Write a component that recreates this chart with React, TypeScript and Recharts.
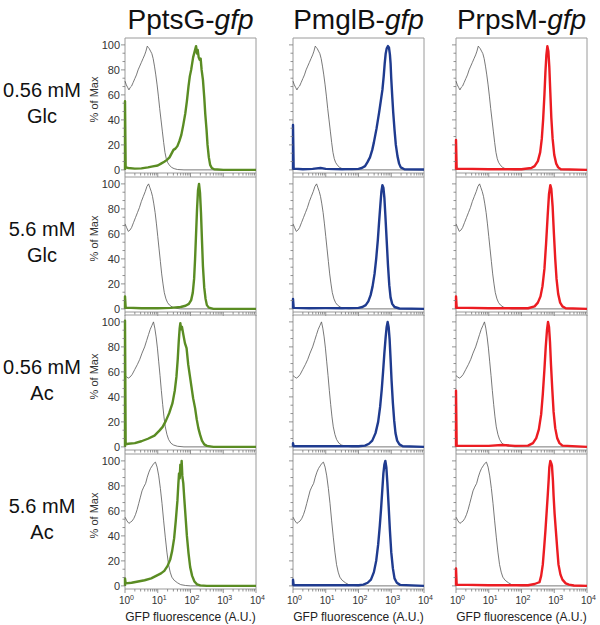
import React from 'react';
import { LineChart, Line, XAxis, YAxis, ReferenceArea } from 'recharts';

const FONT = '"Liberation Sans", Arial, Helvetica, sans-serif';

type Pt = [number, number];

// Column / row annotations
const promoters = ['PptsG', 'PmglB', 'PrpsM'];
const conditions: [string, string][] = [
  ['0.56 mM', 'Glc'],
  ['5.6 mM', 'Glc'],
  ['0.56 mM', 'Ac'],
  ['5.6 mM', 'Ac'],
];
const gfpColors = ['#5a8c23', '#1f3b8f', '#ec1c22'];
const yMajorTicks = [0, 20, 40, 60, 80, 100];
const xDecades = [0, 1, 2, 3, 4];

// x = log10(GFP fluorescence, A.U.), y = % of Max
// Control (autofluorescence) histograms, one per row
const ctrlRow1: Pt[] = [[0,71],[0.04,68],[0.08,66],[0.12,64],[0.16,66],[0.2,67],[0.25,70],[0.3,73],[0.35,76],[0.4,80],[0.45,83],[0.5,86],[0.55,89],[0.6,92],[0.64,95],[0.68,99],[0.71,98],[0.74,97],[0.78,95],[0.82,93],[0.86,89],[0.9,83],[0.94,76],[0.98,68],[1.02,59],[1.06,49],[1.1,40],[1.14,31],[1.18,22],[1.22,14],[1.26,9],[1.3,6],[1.35,4],[1.42,2],[1.5,1],[1.6,0.3],[1.8,0],[4,0]];
const ctrlRow2: Pt[] = [[0,68],[0.05,65],[0.1,62],[0.15,63],[0.2,65],[0.26,69],[0.32,73],[0.38,77],[0.44,81],[0.5,86],[0.56,90],[0.62,94],[0.67,98],[0.72,100],[0.76,97],[0.8,94],[0.84,90],[0.88,84],[0.92,77],[0.96,68],[1.0,58],[1.04,48],[1.08,38],[1.12,28],[1.16,20],[1.2,13],[1.25,8],[1.3,5],[1.36,3],[1.44,1.5],[1.55,0.5],[1.7,0],[4,0]];
const ctrlRow3: Pt[] = [[0,57],[0.05,56],[0.1,55],[0.16,56],[0.22,58],[0.3,62],[0.38,66],[0.45,70],[0.52,75],[0.6,80],[0.66,85],[0.72,90],[0.77,94],[0.82,97],[0.87,100],[0.91,95],[0.95,88],[0.99,79],[1.03,68],[1.07,57],[1.11,45],[1.15,34],[1.19,24],[1.23,16],[1.28,10],[1.33,6],[1.4,3],[1.48,1.5],[1.6,0.5],[1.8,0],[4,0]];
const ctrlRow4: Pt[] = [[0,55],[0.06,52],[0.12,50],[0.17,51],[0.22,52],[0.27,54],[0.32,57],[0.37,61],[0.42,66],[0.47,71],[0.52,76],[0.57,79],[0.63,82],[0.68,87],[0.73,91],[0.78,94],[0.83,96],[0.88,98],[0.93,99],[0.98,95],[1.03,88],[1.08,78],[1.13,66],[1.18,52],[1.23,39],[1.28,27],[1.33,17],[1.38,11],[1.43,7],[1.5,4.5],[1.6,2.5],[1.7,1],[1.85,0.3],[2,0],[4,0]];

// PptsG-gfp
const ptsGRow1: Pt[] = [[0,0],[0,55],[0.02,2],[0.1,1.5],[0.3,1],[0.5,1.2],[0.7,2],[0.85,2.8],[1.0,3.5],[1.1,5],[1.2,6.5],[1.28,8],[1.36,10],[1.42,13],[1.48,16],[1.54,17],[1.6,19],[1.66,23],[1.72,28],[1.78,36],[1.84,45],[1.89,55],[1.94,67],[1.98,75],[2.02,80],[2.05,85],[2.08,90],[2.11,93],[2.14,96],[2.17,99],[2.2,93],[2.22,96],[2.25,90],[2.28,88],[2.31,89],[2.34,80],[2.38,72],[2.42,58],[2.45,45],[2.49,32],[2.52,20],[2.56,10],[2.6,4],[2.65,1.5],[2.72,0.5],[3,0],[4,0]];
const ptsGRow2: Pt[] = [[0,0],[0,10],[0.02,1],[0.5,0.5],[1.0,0.5],[1.4,0.8],[1.7,1.5],[1.85,2.5],[1.95,4],[2.02,7],[2.07,13],[2.11,24],[2.14,40],[2.17,60],[2.2,80],[2.23,95],[2.26,100],[2.29,93],[2.32,77],[2.35,55],[2.38,34],[2.42,17],[2.46,8],[2.5,3],[2.56,1],[2.7,0],[4,0]];
const ptsGRow3: Pt[] = [[0,0],[0,101],[0.02,2],[0.1,2.5],[0.3,3],[0.5,4.5],[0.7,6.5],[0.9,9],[1.05,13],[1.15,16],[1.25,21],[1.35,27],[1.45,35],[1.52,45],[1.57,56],[1.61,70],[1.64,84],[1.67,95],[1.69,99],[1.71,94],[1.74,96],[1.78,90],[1.83,83],[1.88,79],[1.93,66],[1.98,57],[2.03,48],[2.08,39],[2.14,31],[2.19,22],[2.24,15],[2.29,10],[2.35,5],[2.42,2],[2.5,0.8],[2.7,0],[4,0]];
const ptsGRow4: Pt[] = [[0,0],[0,6],[0.02,2],[0.2,2.5],[0.4,3.5],[0.6,4.5],[0.8,6],[0.95,8],[1.1,10],[1.2,12],[1.3,16],[1.38,21],[1.44,28],[1.5,38],[1.55,52],[1.6,68],[1.63,82],[1.65,90],[1.67,86],[1.69,97],[1.71,91],[1.73,100],[1.75,88],[1.78,82],[1.81,70],[1.85,55],[1.89,40],[1.94,26],[1.99,15],[2.05,8],[2.12,3.5],[2.2,1.2],[2.3,0.4],[2.5,0],[4,0]];

// PmglB-gfp
const mglBRow1: Pt[] = [[0,0],[0,36],[0.02,1],[0.3,0.5],[0.6,0.8],[0.84,1.5],[1.0,0.8],[1.5,0.5],[2.0,0.8],[2.1,1.5],[2.2,3],[2.27,6],[2.35,10],[2.42,16],[2.47,22],[2.55,33],[2.63,46],[2.68,55],[2.73,64],[2.77,75],[2.8,85],[2.83,93],[2.86,97],[2.9,99],[2.93,98],[2.96,92],[2.98,85],[3.0,73],[3.03,59],[3.06,46],[3.1,32],[3.14,20],[3.19,11],[3.24,5],[3.29,2],[3.4,0.5],[4,0.3]];
const mglBRow2: Pt[] = [[0,0],[0,8],[0.02,0.8],[0.5,0.5],[1,0.6],[1.5,0.5],[2.0,0.8],[2.12,1.5],[2.22,3],[2.3,6],[2.37,11],[2.43,18],[2.49,28],[2.54,40],[2.59,55],[2.63,70],[2.67,84],[2.7,94],[2.73,99],[2.76,97],[2.79,89],[2.82,75],[2.86,55],[2.9,35],[2.94,19],[2.98,9],[3.03,4],[3.1,1.5],[3.25,0.3],[4,0]];
const mglBRow3: Pt[] = [[0,0],[0,3],[0.02,0.5],[1,0.5],[2.0,0.5],[2.2,1],[2.32,2.5],[2.42,5],[2.52,11],[2.6,20],[2.66,32],[2.71,46],[2.75,60],[2.79,75],[2.83,88],[2.86,96],[2.89,100],[2.92,96],[2.95,86],[2.98,70],[3.01,53],[3.05,35],[3.09,21],[3.13,11],[3.18,5],[3.25,2],[3.35,0.5],[4,0]];
const mglBRow4: Pt[] = [[0,0],[0,5],[0.02,0.5],[1,0.5],[2.0,0.5],[2.15,1],[2.28,2.5],[2.38,5],[2.47,11],[2.54,20],[2.6,33],[2.65,48],[2.69,62],[2.73,78],[2.76,90],[2.79,97],[2.82,100],[2.85,95],[2.88,83],[2.92,64],[2.96,44],[3.0,27],[3.05,14],[3.1,6],[3.17,2.5],[3.27,0.8],[4,0]];

// PrpsM-gfp
const rpsMRow1: Pt[] = [[0,0],[0,24],[0.02,1],[1,0.5],[2.0,0.5],[2.3,1.5],[2.4,3],[2.5,7],[2.57,14],[2.62,25],[2.66,40],[2.7,60],[2.73,78],[2.76,92],[2.79,99],[2.82,95],[2.85,82],[2.88,62],[2.91,42],[2.95,25],[3.0,12],[3.06,5],[3.12,2],[3.2,0.5],[4,0]];
const rpsMRow2: Pt[] = [[0,0],[0,10],[0.02,1],[1,0.5],[2.2,0.5],[2.4,2],[2.5,5],[2.58,10],[2.64,18],[2.7,32],[2.75,52],[2.8,75],[2.84,92],[2.88,99],[2.91,96],[2.95,82],[2.99,60],[3.03,40],[3.07,24],[3.12,12],[3.18,5],[3.25,2],[3.35,0.5],[4,0]];
const rpsMRow3: Pt[] = [[0,0],[0,45],[0.02,1],[1,0.8],[1.4,1.5],[1.8,0.8],[2.2,1],[2.35,3],[2.45,7],[2.53,14],[2.6,26],[2.65,42],[2.7,62],[2.74,80],[2.78,94],[2.81,100],[2.84,96],[2.87,84],[2.9,66],[2.94,46],[2.98,28],[3.03,15],[3.09,7],[3.16,3],[3.25,1],[4,0]];
const rpsMRow4: Pt[] = [[0,0],[0,14],[0.02,1],[1,0.5],[2.2,0.5],[2.4,1.5],[2.5,2.5],[2.55,3],[2.6,8],[2.65,17],[2.69,30],[2.73,44],[2.77,60],[2.8,72],[2.83,85],[2.85,95],[2.88,100],[2.91,98],[2.93,96],[2.96,84],[2.98,72],[3.01,58],[3.05,44],[3.09,30],[3.13,17],[3.19,9],[3.25,5],[3.35,2],[3.45,1],[3.6,0.3],[4,0]];

const controls: Pt[][] = [ctrlRow1, ctrlRow2, ctrlRow3, ctrlRow4];
const reporters: Pt[][][] = [
  [ptsGRow1, mglBRow1, rpsMRow1],
  [ptsGRow2, mglBRow2, rpsMRow2],
  [ptsGRow3, mglBRow3, rpsMRow3],
  [ptsGRow4, mglBRow4, rpsMRow4],
];

// layout
const COL_LEFT = [125, 293, 456];
const ROW_TOP = [38, 177, 315, 454];
const PLOT_W = 131;
const PLOT_H = 135;
const Y_AXIS_W = 45;
const X_AXIS_H = 36;
const M_TOP = 4;
const M_RIGHT = 10;
const Y_DOMAIN: [number, number] = [-2.5, 105.5];

const yTicks: number[] = [];
for (let k = 0; k < 5; k++) {
  yTicks.push(20 * k, 20 * k + 20 / 3, 20 * k + 40 / 3);
}
yTicks.push(100);

const xTicks: number[] = [];
for (let d = 0; d < 4; d++) {
  xTicks.push(d);
  for (let m = 2; m <= 9; m++) xTicks.push(d + Math.log10(m));
}
xTicks.push(4);

const toPts = (a: Pt[]) => a.map(([x, y]) => ({ x, y }));

const YTick = (props: any) => {
  const { x, y, payload, showLabel } = props;
  const v = payload.value;
  const major = yMajorTicks.some((t) => Math.abs(t - v) < 1e-6);
  return (
    <g>
      <line x1={x} x2={x - (major ? 4 : 2.5)} y1={y} y2={y} stroke="#777" strokeWidth={0.8} />
      {showLabel && major ? (
        <text x={x - 5} y={y + 4} textAnchor="end" fontSize={11} fill="#333" fontFamily={FONT}>
          {Math.round(v)}
        </text>
      ) : null}
    </g>
  );
};

const XTick = (props: any) => {
  const { x, y, payload, showLabel } = props;
  const v = payload.value;
  const major = xDecades.some((t) => Math.abs(t - v) < 1e-6);
  return (
    <g>
      <line x1={x} x2={x} y1={y} y2={y + (major ? 4 : 2.5)} stroke="#777" strokeWidth={0.8} />
      {showLabel && major ? (
        <text x={x + 1.5} y={y + 15} textAnchor="middle" fontSize={10} fill="#333" fontFamily={FONT}>
          10
          <tspan dy={-4} fontSize={7}>
            {Math.round(v)}
          </tspan>
        </text>
      ) : null}
    </g>
  );
};

const XLabel = (props: any) => {
  const vb = props.viewBox || {};
  return (
    <text
      x={vb.x + vb.width / 2}
      y={vb.y + 32}
      textAnchor="middle"
      fontSize={12}
      fill="#222"
      fontFamily={FONT}
    >
      GFP fluorescence (A.U.)
    </text>
  );
};

const YLabel = (props: any) => {
  const vb = props.viewBox || {};
  const cx = vb.x + 14;
  const cy = vb.y + vb.height / 2 - 6;
  return (
    <text
      x={cx}
      y={cy}
      transform={`rotate(-90 ${cx} ${cy})`}
      textAnchor="middle"
      dominantBaseline="central"
      fontSize={11}
      fill="#333"
      fontFamily={FONT}
    >
      % of Max
    </text>
  );
};

function Panel({ row, col }: { row: number; col: number }) {
  const width = Y_AXIS_W + PLOT_W + M_RIGHT;
  const height = M_TOP + PLOT_H + X_AXIS_H;
  const showX = row === 3;
  const showY = col === 0;
  return (
    <div
      style={{
        position: 'absolute',
        left: COL_LEFT[col] - Y_AXIS_W,
        top: ROW_TOP[row] - M_TOP,
        width,
        height,
      }}
    >
      <LineChart width={width} height={height} margin={{ top: M_TOP, right: M_RIGHT, bottom: 0, left: 0 }}>
        <XAxis
          type="number"
          dataKey="x"
          domain={[0, 4]}
          ticks={xTicks}
          interval={0}
          axisLine={false}
          tickLine={false}
          tickSize={0}
          tickMargin={0}
          height={X_AXIS_H}
          tick={(p: any) => <XTick {...p} showLabel={showX} />}
          label={showX ? (p: any) => <XLabel {...p} /> : undefined}
        />
        <YAxis
          type="number"
          domain={Y_DOMAIN}
          ticks={yTicks}
          interval={0}
          axisLine={false}
          tickLine={false}
          tickSize={0}
          tickMargin={0}
          width={Y_AXIS_W}
          tick={(p: any) => <YTick {...p} showLabel={showY} />}
          label={showY ? (p: any) => <YLabel {...p} /> : undefined}
        />
        <ReferenceArea
          x1={0}
          x2={4}
          y1={Y_DOMAIN[0]}
          y2={Y_DOMAIN[1]}
          fill="none"
          fillOpacity={0}
          stroke="#9a9a9a"
          strokeWidth={1}
          ifOverflow="visible"
        />
        <Line
          data={toPts(controls[row])}
          dataKey="y"
          type="linear"
          stroke="#555"
          strokeWidth={0.8}
          dot={false}
          isAnimationActive={false}
        />
        <Line
          data={toPts(reporters[row][col])}
          dataKey="y"
          type="linear"
          stroke={gfpColors[col]}
          strokeWidth={2.4}
          strokeLinejoin="round"
          dot={false}
          isAnimationActive={false}
        />
      </LineChart>
    </div>
  );
}

export default function App() {
  return (
    <div
      style={{
        position: 'absolute',
        left: 0,
        top: 0,
        width: 600,
        height: 625,
        background: '#fff',
        fontFamily: FONT,
        overflow: 'hidden',
      }}
    >
      <svg width={600} height={625} style={{ position: 'absolute', left: 0, top: 0 }}>
        {promoters.map((p, i) => (
          <text
            key={p}
            x={COL_LEFT[i] + PLOT_W / 2}
            y={29}
            textAnchor="middle"
            fontSize={28}
            fill="#111"
            fontFamily={FONT}
          >
            {p}-<tspan fontStyle="italic">gfp</tspan>
          </text>
        ))}
        {conditions.map((c, r) => {
          const center = ROW_TOP[r] + PLOT_H / 2;
          return (
            <g key={r}>
              <text x={42} y={center - 9} textAnchor="middle" fontSize={20} fill="#111" fontFamily={FONT}>
                {c[0]}
              </text>
              <text x={42} y={center + 17} textAnchor="middle" fontSize={20} fill="#111" fontFamily={FONT}>
                {c[1]}
              </text>
            </g>
          );
        })}
      </svg>
      {conditions.map((_, r) => promoters.map((__, c) => <Panel key={`${r}-${c}`} row={r} col={c} />))}
    </div>
  );
}
